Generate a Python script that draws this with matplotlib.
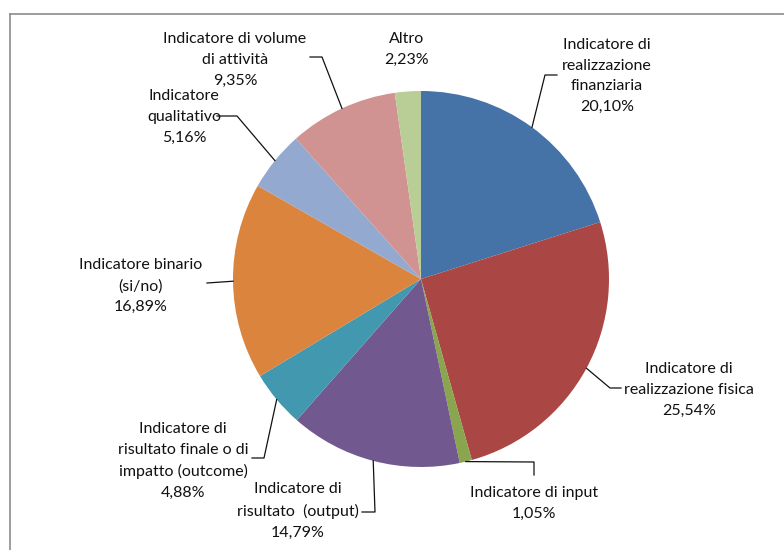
import numpy as np
import matplotlib
matplotlib.use("Agg")
import matplotlib.pyplot as plt
from matplotlib.lines import Line2D

plt.rcParams['font.family'] = ['Lato', 'DejaVu Sans']

# Share of indicators by type
categories = [
    "Indicatore di\nrealizzazione\nfinanziaria",
    "Indicatore di\nrealizzazione fisica",
    "Indicatore di input",
    "Indicatore di\nrisultato  (output)",
    "Indicatore di\nrisultato finale o di\nimpatto (outcome)",
    "Indicatore binario\n(si/no)",
    "Indicatore\nqualitativo",
    "Indicatore di volume\ndi attività",
    "Altro",
]
values = [20.10, 25.54, 1.05, 14.79, 4.88, 16.89, 5.16, 9.35, 2.23]
colors = ["#4572A7", "#AA4643", "#89A54E", "#71588F", "#4198AF",
          "#DB843D", "#93A9CF", "#D19392", "#B9CD96"]

W, H = 784, 550
fig = plt.figure(figsize=(W / 100, H / 100), dpi=100)
ax = fig.add_axes([0, 0, 1, 1])

cx, cy, r = 421, H - 279, 188
wedges, _ = ax.pie(values, colors=colors, startangle=90, counterclock=False,
                   center=(cx, cy), radius=r, frame=True,
                   wedgeprops=dict(linewidth=0))
ax.set_xlim(0, W)
ax.set_ylim(0, H)
ax.set_aspect('equal')
ax.axis('off')

# chart frame (runs past the right and bottom edges)
frame_kw = dict(color="#8C8C8C", lw=1.2)
ax.add_line(Line2D([10, W + 5], [H - 14, H - 14], **frame_kw))
ax.add_line(Line2D([10, 10], [H - 14, -5], **frame_kw))

# label placement (pixel coords from top-left) and leader elbows
label_pos = [(607, 76), (689, 390), (534, 503), (298, 511), (183, 461),
             (141, 286), (184, 117), (235, 60), (407, 49)]
elbows = [
    [(545, 75), (557, 75)],
    [(610, 388), (621, 388)],
    [(534, 462), (534, 475)],
    [(375, 512), (362, 512)],
    [(264, 458), (252, 458)],
    [(207, 283)],
    [(237, 116), (217, 116)],
    [(322, 57), (310, 57)],
    None,
]

for w, lab, val, pos, elb in zip(wedges, categories, values, label_pos, elbows):
    txt = lab + "\n" + f"{val:.2f}".replace(".", ",") + "%"
    ax.text(pos[0], H - pos[1], txt, ha='center', va='center',
            fontsize=11.5, color="#111111", linespacing=1.62)
    if elb is None:
        continue
    ang = np.deg2rad((w.theta1 + w.theta2) / 2)
    x0 = cx + r * np.cos(ang)
    y0 = cy + r * np.sin(ang)
    xs = [x0] + [p[0] for p in elb]
    ys = [y0] + [H - p[1] for p in elb]
    ax.add_line(Line2D(xs, ys, color="#111111", lw=0.9))

fig.savefig("out.png", dpi=100)
